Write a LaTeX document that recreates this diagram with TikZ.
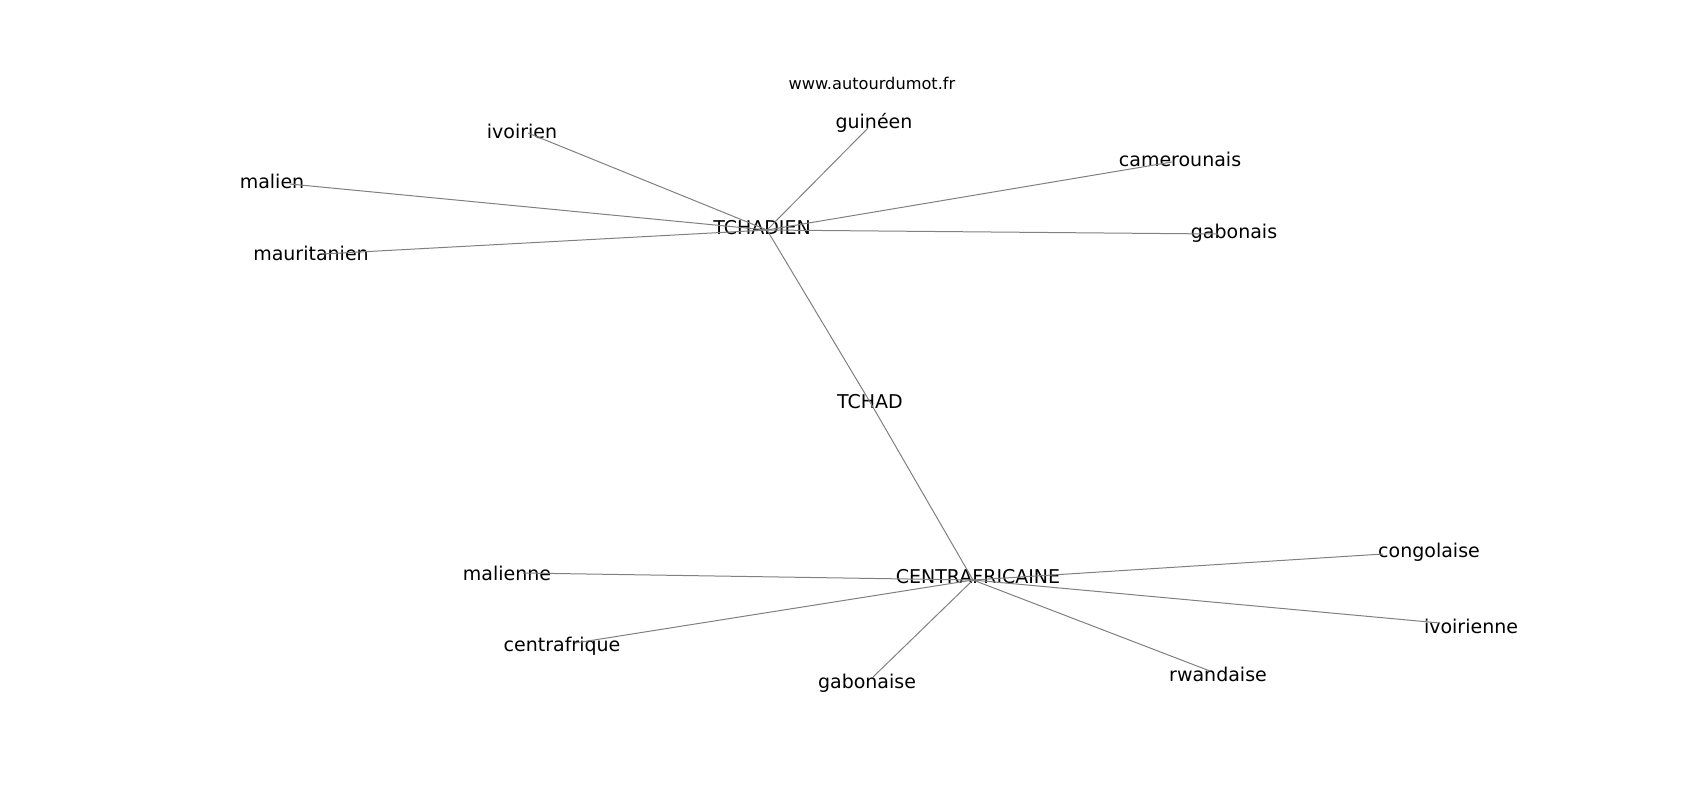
\documentclass[tikz,border=0pt]{standalone}
\usepackage{fontspec}
\setmainfont{DejaVu Sans}

\begin{document}
\begin{tikzpicture}[x=0.5pt, y=-0.5pt,
		every node/.style={inner sep=0pt, font=\fontsize{9.5}{11}\selectfont},
		edge/.style={draw=black!50, line width=0.5pt}]
			% Page frame
			\useasboundingbox (0,0) rectangle (1700,800);
			\node[font=\fontsize{8.1}{10}\selectfont] (site) at (872,83) {www.autourdumot.fr};
			
			% The two hubs and the word between them
			\coordinate (tchadien) at (767,230);
			\coordinate (centrafricaine) at (973,580);
			\node (ltchadien) at (762,228) {TCHADIEN};
			\node (ltchad) at (870,402) {TCHAD};
			\node (lcentrafricaine) at (978,577) {CENTRAFRICAINE};
			\draw[edge] (tchadien) -- (ltchad.center);
			\draw[edge] (ltchad.center) -- (centrafricaine);
			
			% Words around TCHADIEN
			\foreach \id/\px/\py/\lx/\ly/\word in {
				gui/868/128/874/123/guinéen,
				ivo/528/133/522/131/ivoirien,
				mal/290/184/272/181/malien,
				mau/322/254/311/253/mauritanien,
				cam/1172/162/1180/159/camerounais,
				gab/1218/234/1234/233/gabonais} {
				\coordinate (\id) at (\px,\py);
				\node (l\id) at (\lx,\ly) {\word};
				\draw[edge] (tchadien) -- (\id);
			}
			
			% Words around CENTRAFRICAINE
			\foreach \id/\px/\py/\lx/\ly/\word in {
				mali/523/573/507/573/malienne,
				cen/575/643/562/646/centrafrique,
				gabo/873/677/867/683/gabonaise,
				rwa/1210/671/1218/674/rwandaise,
				ivoi/1440/623/1471/626/ivoirienne,
				con/1383/554/1429/552/congolaise} {
				\coordinate (\id) at (\px,\py);
				\node (l\id) at (\lx,\ly) {\word};
				\draw[edge] (centrafricaine) -- (\id);
			}
		\end{tikzpicture}
\end{document}
